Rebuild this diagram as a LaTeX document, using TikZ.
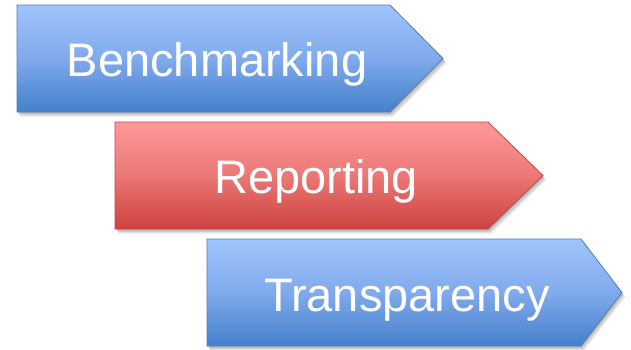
\documentclass[tikz,border=0pt]{standalone}
\usepackage{fontspec}
\setmainfont{Liberation Sans}
\definecolor{bluetop}{RGB}{160,196,252}
\definecolor{bluemid}{RGB}{128,170,235}
\definecolor{bluebot}{RGB}{68,128,204}
\definecolor{blueedge}{RGB}{80,125,185}
\definecolor{redtop}{RGB}{255,152,152}
\definecolor{redmid}{RGB}{234,120,118}
\definecolor{redbot}{RGB}{205,66,62}
\definecolor{rededge}{RGB}{190,75,72}
\newcommand\pentapath[5]{(#1,#2) -- (#3,#2) -- (#4,{(#2+#5)/2}) -- (#3,#5) -- (#1,#5) -- cycle}
\tikzset{
  bluearrow/.style={draw=blueedge, line width=0.8pt, top color=bluetop, bottom color=bluebot, middle color=bluemid},
  redarrow/.style={draw=rededge, line width=0.8pt, top color=redtop, bottom color=redbot, middle color=redmid},
  shadowlayer/.style={fill=black, fill opacity=0.1, draw=none},
  label/.style={text=white, font=\fontsize{47}{50}\selectfont, anchor=base, inner sep=0pt}
}
\newcommand\arrowshadow[5]{%
  \fill[shadowlayer, shift={(1,1.5)}] \pentapath{#1}{#2}{#3}{#4}{#5};
  \fill[shadowlayer, shift={(2,3)}] \pentapath{#1}{#2}{#3}{#4}{#5};
  \fill[shadowlayer, shift={(3,4.5)}] \pentapath{#1}{#2}{#3}{#4}{#5};
}
\begin{document}
\begin{tikzpicture}[x=1pt,y=-1pt]
  \useasboundingbox[fill=white] (0,0) rectangle (631,349);
  % Benchmarking
  \arrowshadow{17}{5}{390}{443}{112}
  \path[bluearrow] \pentapath{17}{5}{390}{443}{112};
  \node[label] (b) at (217,76) {Benchmarking};
  % Reporting
  \arrowshadow{115}{122}{488}{543}{229}
  \path[redarrow] \pentapath{115}{122}{488}{543}{229};
  \node[label] (r) at (316,193) {Reporting};
  % Transparency
  \arrowshadow{207}{239}{581}{622}{346}
  \path[bluearrow] \pentapath{207}{239}{581}{622}{346};
  \node[label] (t) at (407,311) {Transparency};
\end{tikzpicture}
\end{document}
